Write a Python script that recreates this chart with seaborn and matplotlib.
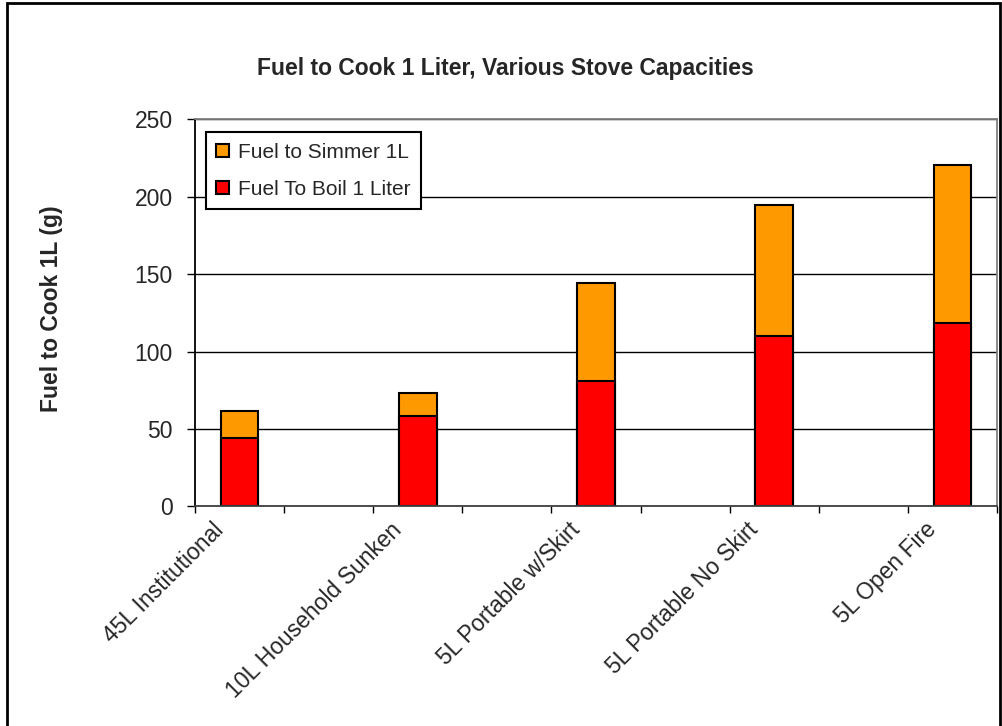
import numpy as np
import pandas as pd
import matplotlib
matplotlib.use("Agg")
import matplotlib.pyplot as plt
import seaborn as sns
from matplotlib.patches import Rectangle
from matplotlib.transforms import ScaledTranslation

# stove types and fuel used (g) per liter
stoves = ["45L Institutional", "10L Household Sunken", "5L Portable w/Skirt",
          "5L Portable No Skirt", "5L Open Fire"]
boil = [44.4, 58.6, 80.8, 110.2, 118.2]
simmer = [17.4, 14.4, 63.2, 84.2, 102.2]

# the sheet had a blank row between each stove, so keep empty slots
slots = []
for i, s in enumerate(stoves):
    slots.append(s)
    if i < len(stoves) - 1:
        slots.append(" " * (i + 1))

df = pd.DataFrame({"stove": stoves, "boil": boil, "simmer": simmer})
df["total"] = df["boil"] + df["simmer"]

sns.set_style("white")
plt.rcParams["font.family"] = ["Liberation Sans", "DejaVu Sans"]

fig = plt.figure(figsize=(10.03, 7.26), dpi=100)
ax = fig.add_axes([0.1944, 0.3025, 0.7996, 0.5332])

# stacked look: total in orange, boil part drawn over it in red
sns.barplot(data=df, x="stove", y="total", order=slots, color="#FF9900",
            saturation=1, width=0.424, edgecolor="black", linewidth=1.5,
            errorbar=None, label="Fuel to Simmer 1L", ax=ax)
sns.barplot(data=df, x="stove", y="boil", order=slots, color="#FF0000",
            saturation=1, width=0.424, edgecolor="black", linewidth=1.5,
            errorbar=None, label="Fuel To Boil 1 Liter", ax=ax)

ax.set_ylim(0, 250)
ax.set_yticks(np.arange(0, 251, 50))
ax.set_xlim(-0.5, len(slots) - 0.5)
ax.set_xlabel("")
ax.set_ylabel("")
ax.set_axisbelow(True)
ax.yaxis.grid(True, color="black", linewidth=1)

# labels only under the stoves, tick marks on slot borders
ax.set_xticks(np.arange(0, len(slots), 2))
ax.set_xticklabels(stoves, rotation=45, ha="right", va="top",
                   rotation_mode="anchor", fontsize=16.5)
ax.set_xticks(np.arange(-0.5, len(slots), 1), minor=True)
ax.tick_params(axis="x", which="major", length=0, pad=8.5)
ax.tick_params(axis="x", which="minor", bottom=True, length=5, width=1,
               color="black", direction="out")
ax.tick_params(axis="y", left=True, length=6, width=1, color="black",
               direction="out", pad=10, labelsize=16.5)
shift = ScaledTranslation(-0.28, 0, fig.dpi_scale_trans)
for lab in ax.get_xticklabels():
    lab.set_transform(lab.get_transform() + shift)

ax.spines["left"].set_color("black")
ax.spines["left"].set_linewidth(1.3)
ax.spines["bottom"].set_color("#404040")
ax.spines["bottom"].set_linewidth(1.3)
for side in ["top", "right"]:
    ax.spines[side].set_color("#808080")
    ax.spines[side].set_linewidth(1.3)

leg = ax.legend(loc="upper left", bbox_to_anchor=(0.0137, 0.966),
                borderaxespad=0, fontsize=15, handlelength=0.6,
                handleheight=0.6, handletextpad=0.45, labelspacing=0.85,
                borderpad=0.5, fancybox=False, framealpha=1,
                edgecolor="black")
leg.get_frame().set_linewidth(1.5)

fig.text(0.5035, 0.906, "Fuel to Cook 1 Liter, Various Stove Capacities",
         ha="center", va="center", fontsize=16.5, fontweight="bold")
fig.text(52 / 1003, 1 - 309 / 726, "Fuel to Cook 1L (g)", rotation=90,
         ha="center", va="center", fontsize=16.5, fontweight="bold")

# chart border like the spreadsheet frame
fig.patches.append(Rectangle((7 / 1003, -0.02), 993 / 1003, 1.02 - 3 / 726,
                             transform=fig.transFigure, fill=False,
                             edgecolor="black", linewidth=2))

fig.savefig("out.png", dpi=100)
